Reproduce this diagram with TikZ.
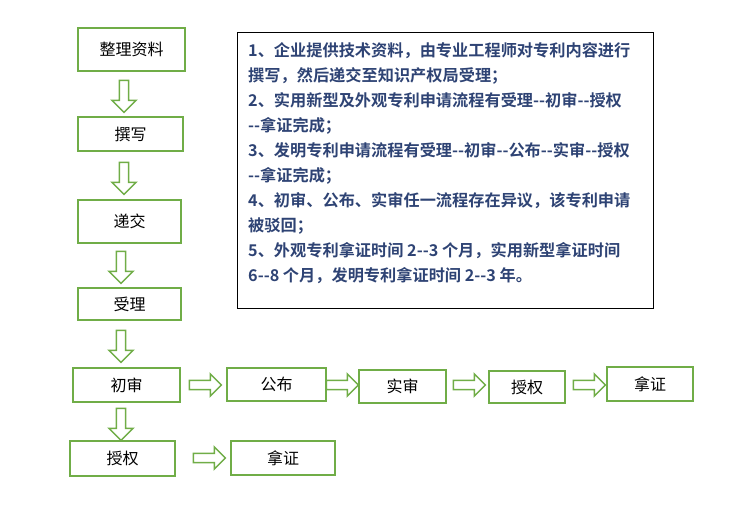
\documentclass[tikz,border=0pt]{standalone}
\usepackage{fontspec}
\setmainfont{Noto Sans CJK SC}
\newfontfamily\cjkb[BoldFont={Noto Sans CJK SC Bold}]{Noto Sans CJK SC}
\usetikzlibrary{shapes.arrows}
\definecolor{gbox}{HTML}{70AD47}
\definecolor{tblue}{HTML}{2E4374}
\begin{document}
\begin{tikzpicture}[x=1pt,y=-1pt,
  box/.style={draw=gbox,line width=2pt,minimum height=34pt,inner sep=0pt,font=\fontsize{16}{16}\selectfont},
  darr/.style={single arrow,draw=gbox,line width=1.5pt,fill=white,shape border rotate=270,
     minimum width=24pt,single arrow head extend=6pt,single arrow tip angle=90,minimum height=32pt,inner sep=3pt},
  rarr/.style={single arrow,draw=gbox,line width=1.5pt,fill=white,
     minimum width=22pt,single arrow head extend=5pt,minimum height=32pt,inner sep=3pt}]
\useasboundingbox (0,0) rectangle (754,531);
\node[box,minimum width=107pt,minimum height=43pt] (a) at (131.5,49.5) {整理资料};
\node[box,minimum width=105pt] (b) at (130.5,134) {撰写};
\node[box,minimum width=103pt,minimum height=43pt] (c) at (129.5,221.5) {递交};
\node[box,minimum width=103pt,minimum height=32pt] (d) at (129.5,304) {受理};
\node[box,minimum width=107pt] (e) at (126.5,385) {初审};
\node[box,minimum width=99pt,minimum height=33pt] (f) at (276.5,384.5) {公布};
\node[box,minimum width=87pt,minimum height=33pt] (g) at (402.5,386.5) {实审};
\node[box,minimum width=76pt,minimum height=32pt] (h) at (527,387) {授权};
\node[box,minimum width=86pt] (i) at (650,384) {拿证};
\node[box,minimum width=105pt,minimum height=35pt] (j) at (122.5,458.5) {授权};
\node[box,minimum width=104pt] (k) at (283,458) {拿证};
\node[darr] (d1) at (124,94) {};
\node[darr] (d2) at (124,176) {};
\node[darr] (d3) at (121,265) {};
\node[darr] (d4) at (121,344) {};
\node[darr] (d5) at (121,422) {};
\node[rarr] (r1) at (203,385) {};
\node[rarr] (r2) at (340,385) {};
\node[rarr] (r3) at (467,385) {};
\node[rarr] (r4) at (587,385) {};
\node[rarr] (r5) at (207,458) {};
\node[draw=black,line width=0.8pt,minimum width=416pt,minimum height=276pt] (t) at (445,170) {};
\node[anchor=north west,text=tblue,align=left,font=\cjkb\bfseries\fontsize{16.2}{25}\selectfont,inner sep=0pt] (tx) at (248,42) {%
1、企业提供技术资料，由专业工程师对专利内容进行\\
撰写，然后递交至知识产权局受理；\\
2、实用新型及外观专利申请流程有受理--初审--授权\\
--拿证完成；\\
3、发明专利申请流程有受理--初审--公布--实审--授权\\
--拿证完成；\\
4、初审、公布、实审任一流程存在异议，该专利申请\\
被驳回；\\
5、外观专利拿证时间 2--3 个月，实用新型拿证时间\\
6--8 个月，发明专利拿证时间 2--3 年。};
\end{tikzpicture}
\end{document}
